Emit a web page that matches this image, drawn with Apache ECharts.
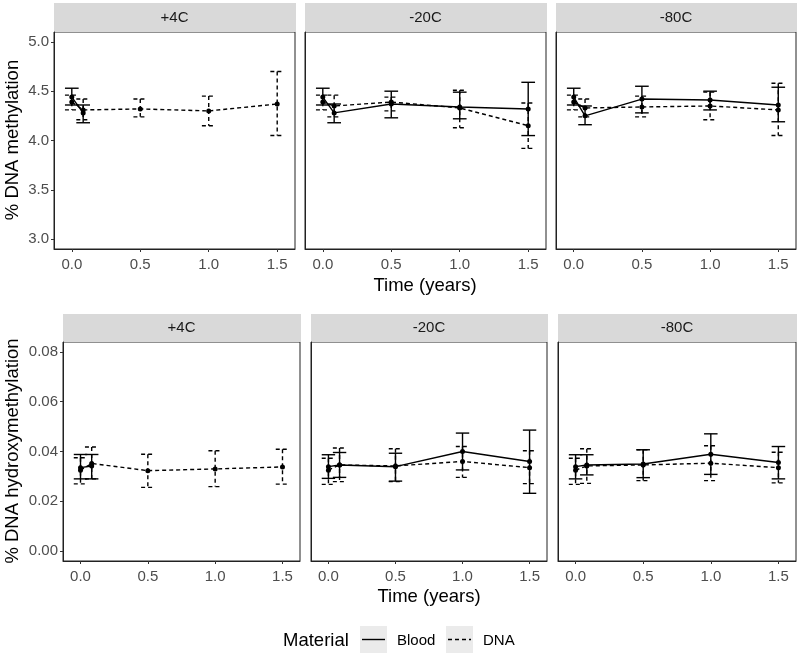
<!DOCTYPE html>
<html>
<head>
<meta charset="utf-8">
<script src="https://cdn.jsdelivr.net/npm/echarts@6/dist/echarts.min.js"></script>
<style>
html,body{margin:0;padding:0;background:#fff;}
#chart{width:800px;height:656px;}
</style>
</head>
<body>
<div id="chart"></div>
<script>
// ---------------- DATA ----------------
const times = [0, 0.083, 0.5, 1.0, 1.5];
const temps = ['+4C', '-20C', '-80C'];
const xTicks = [0.0, 0.5, 1.0, 1.5];
const methTicks = [3.0, 3.5, 4.0, 4.5, 5.0];
const hmTicks = [0.00, 0.02, 0.04, 0.06, 0.08];
const materials = ['Blood', 'DNA'];

// [mean, lower, upper] per time point; null = not measured
const methBlood_p4  = [[4.44, 4.36, 4.53], [4.28, 4.18, 4.36], null, null, null];
const methDNA_p4    = [[4.39, 4.31, 4.46], [4.31, 4.21, 4.42], [4.32, 4.24, 4.42], [4.30, 4.15, 4.45], [4.37, 4.05, 4.70]];
const methBlood_m20 = [[4.44, 4.36, 4.53], [4.28, 4.18, 4.37], [4.37, 4.23, 4.50], [4.34, 4.22, 4.49], [4.32, 4.05, 4.59]];
const methDNA_m20   = [[4.39, 4.31, 4.46], [4.35, 4.24, 4.46], [4.39, 4.30, 4.44], [4.33, 4.13, 4.51], [4.15, 3.92, 4.38]];
const methBlood_m80 = [[4.44, 4.36, 4.53], [4.25, 4.16, 4.35], [4.42, 4.28, 4.55], [4.41, 4.31, 4.50], [4.36, 4.19, 4.54]];
const methDNA_m80   = [[4.39, 4.31, 4.46], [4.33, 4.24, 4.42], [4.34, 4.24, 4.45], [4.35, 4.21, 4.49], [4.31, 4.05, 4.58]];

const hmBlood_p4  = [[0.0335, 0.0290, 0.0388], [0.0342, 0.0290, 0.0388], null, null, null];
const hmDNA_p4    = [[0.0325, 0.0270, 0.0375], [0.0352, 0.0290, 0.0418], [0.0323, 0.0256, 0.0389], [0.0330, 0.0259, 0.0403], [0.0338, 0.0269, 0.0409]];
const hmBlood_m20 = [[0.0339, 0.0292, 0.0387], [0.0346, 0.0296, 0.0396], [0.0339, 0.0281, 0.0393], [0.0400, 0.0326, 0.0474], [0.0360, 0.0232, 0.0486]];
const hmDNA_m20   = [[0.0325, 0.0268, 0.0373], [0.0346, 0.0279, 0.0414], [0.0342, 0.0279, 0.0411], [0.0360, 0.0296, 0.0420], [0.0335, 0.0271, 0.0403]];
const hmBlood_m80 = [[0.0339, 0.0290, 0.0387], [0.0346, 0.0306, 0.0387], [0.0350, 0.0295, 0.0407], [0.0389, 0.0308, 0.0471], [0.0356, 0.0290, 0.0420]];
const hmDNA_m80   = [[0.0325, 0.0268, 0.0373], [0.0342, 0.0272, 0.0411], [0.0346, 0.0283, 0.0407], [0.0353, 0.0283, 0.0423], [0.0335, 0.0274, 0.0397]];

// ---------------- LAYOUT ----------------
const FONT = '"Liberation Sans", Arial, sans-serif';
const SMALL = 15;
const BIG = 18.5;
const panels = [
  {left: 54,  top: 32,  width: 241, height: 217, row: 0, col: 0, blood: methBlood_p4,  dna: methDNA_p4},
  {left: 305, top: 32,  width: 241, height: 217, row: 0, col: 1, blood: methBlood_m20, dna: methDNA_m20},
  {left: 556, top: 32,  width: 240, height: 217, row: 0, col: 2, blood: methBlood_m80, dna: methDNA_m80},
  {left: 63,  top: 342, width: 237, height: 219, row: 1, col: 0, blood: hmBlood_p4,  dna: hmDNA_p4},
  {left: 311, top: 342, width: 236, height: 219, row: 1, col: 1, blood: hmBlood_m20, dna: hmDNA_m20},
  {left: 558, top: 342, width: 238, height: 219, row: 1, col: 2, blood: hmBlood_m80, dna: hmDNA_m80}
];
const CAP = 0.05;
const LW = 1.4;
const DASH = [4, 3];

const grids = [], xAxes = [], yAxes = [], series = [], graphics = [];

panels.forEach((p, i) => {
  grids.push({left: p.left, top: p.top, width: p.width, height: p.height,
    show: true, borderColor: '#222', borderWidth: 1, backgroundColor: '#fff', containLabel: false});
  xAxes.push({
    type: 'value', gridIndex: i, min: -0.13, max: 1.63,
    splitLine: {show: false},
    axisLine: {show: true, onZero: false, lineStyle: {color: '#222', width: 1}},
    axisTick: {show: true, length: 3, lineStyle: {color: '#333'}, customValues: xTicks},
    axisLabel: {show: true, customValues: xTicks, margin: 8, color: '#4D4D4D', fontSize: SMALL, fontFamily: FONT,
      formatter: v => Number(v).toFixed(1)}
  });
  const isMeth = p.row === 0;
  const ticks = isMeth ? methTicks : hmTicks;
  yAxes.push({
    type: 'value', gridIndex: i,
    min: isMeth ? 2.9 : -0.004, max: isMeth ? 5.1 : 0.084,
    splitLine: {show: false},
    axisLine: {show: true, onZero: false, lineStyle: {color: '#222', width: 1}},
    axisTick: {show: p.col === 0, length: 3, lineStyle: {color: '#333'}, customValues: ticks},
    axisLabel: {show: p.col === 0, customValues: ticks, margin: 5, color: '#4D4D4D', fontSize: SMALL, fontFamily: FONT,
      formatter: v => Number(v).toFixed(isMeth ? 1 : 2)}
  });

  [['Blood', p.blood, null], ['DNA', p.dna, DASH]].forEach(([name, arr, dash]) => {
    const pts = [], errs = [];
    times.forEach((t, k) => {
      if (arr[k]) { pts.push([t, arr[k][0]]); errs.push([t, arr[k][1], arr[k][2]]); }
    });
    series.push({
      type: 'custom', name: name, xAxisIndex: i, yAxisIndex: i, data: errs,
      encode: {x: 0, y: [1, 2]}, clip: true, silent: true, z: 2,
      renderItem: function (params, api) {
        const x = api.value(0), lo = api.value(1), hi = api.value(2);
        const a = api.coord([x, hi]), b = api.coord([x, lo]);
        const c1 = api.coord([x - CAP, hi]), c2 = api.coord([x + CAP, hi]);
        const d1 = api.coord([x - CAP, lo]), d2 = api.coord([x + CAP, lo]);
        const st = {stroke: '#000', lineWidth: LW, lineDash: dash || null, fill: null};
        return {type: 'group', children: [
          {type: 'line', shape: {x1: a[0], y1: a[1], x2: b[0], y2: b[1]}, style: st},
          {type: 'line', shape: {x1: c1[0], y1: c1[1], x2: c2[0], y2: c2[1]}, style: st},
          {type: 'line', shape: {x1: d1[0], y1: d1[1], x2: d2[0], y2: d2[1]}, style: st}
        ]};
      }
    });
    series.push({
      type: 'line', name: name, xAxisIndex: i, yAxisIndex: i, data: pts,
      symbol: 'circle', symbolSize: 5, silent: true, animation: false, z: 3,
      itemStyle: {color: '#000'},
      lineStyle: {color: '#000', width: LW, type: dash ? DASH : 'solid'}
    });
  });

  // facet strip
  const stripTop = p.row === 0 ? 3 : 314;
  graphics.push({type: 'rect', shape: {x: p.left, y: stripTop, width: p.width + 1, height: p.top - stripTop},
    style: {fill: '#D9D9D9'}, silent: true});
  graphics.push({type: 'text', x: p.left + p.width / 2, y: stripTop + (p.top - stripTop) / 2,
    style: {text: temps[p.col], fill: '#1A1A1A', fontSize: SMALL, fontFamily: FONT, align: 'center', verticalAlign: 'middle'}, silent: true});
});

// axis titles
graphics.push({type: 'text', x: 13, y: 140, rotation: Math.PI / 2,
  style: {text: '% DNA methylation', fill: '#000', fontSize: BIG, fontFamily: FONT, align: 'center', verticalAlign: 'middle'}});
graphics.push({type: 'text', x: 13, y: 451, rotation: Math.PI / 2,
  style: {text: '% DNA hydroxymethylation', fill: '#000', fontSize: BIG, fontFamily: FONT, align: 'center', verticalAlign: 'middle'}});
graphics.push({type: 'text', x: 425, y: 286,
  style: {text: 'Time (years)', fill: '#000', fontSize: BIG, fontFamily: FONT, align: 'center', verticalAlign: 'middle'}});
graphics.push({type: 'text', x: 429, y: 597,
  style: {text: 'Time (years)', fill: '#000', fontSize: BIG, fontFamily: FONT, align: 'center', verticalAlign: 'middle'}});

// legend
graphics.push({type: 'text', x: 283, y: 641,
  style: {text: 'Material', fill: '#000', fontSize: BIG, fontFamily: FONT, align: 'left', verticalAlign: 'middle'}});
graphics.push({type: 'rect', shape: {x: 360, y: 626, width: 27, height: 27}, style: {fill: '#EBEBEB'}});
graphics.push({type: 'line', shape: {x1: 362, y1: 639.5, x2: 385, y2: 639.5}, style: {stroke: '#000', lineWidth: LW}});
graphics.push({type: 'text', x: 397, y: 641,
  style: {text: materials[0], fill: '#000', fontSize: SMALL, fontFamily: FONT, align: 'left', verticalAlign: 'middle'}});
graphics.push({type: 'rect', shape: {x: 446, y: 626, width: 27, height: 27}, style: {fill: '#EBEBEB'}});
graphics.push({type: 'line', shape: {x1: 448, y1: 639.5, x2: 471, y2: 639.5}, style: {stroke: '#000', lineWidth: LW, lineDash: DASH}});
graphics.push({type: 'text', x: 483, y: 641,
  style: {text: materials[1], fill: '#000', fontSize: SMALL, fontFamily: FONT, align: 'left', verticalAlign: 'middle'}});

const chart = echarts.init(document.getElementById('chart'), null, {renderer: 'canvas'});
chart.setOption({
  backgroundColor: '#fff',
  animation: false,
  grid: grids,
  xAxis: xAxes,
  yAxis: yAxes,
  series: series,
  graphic: graphics
});
</script>
</body>
</html>
